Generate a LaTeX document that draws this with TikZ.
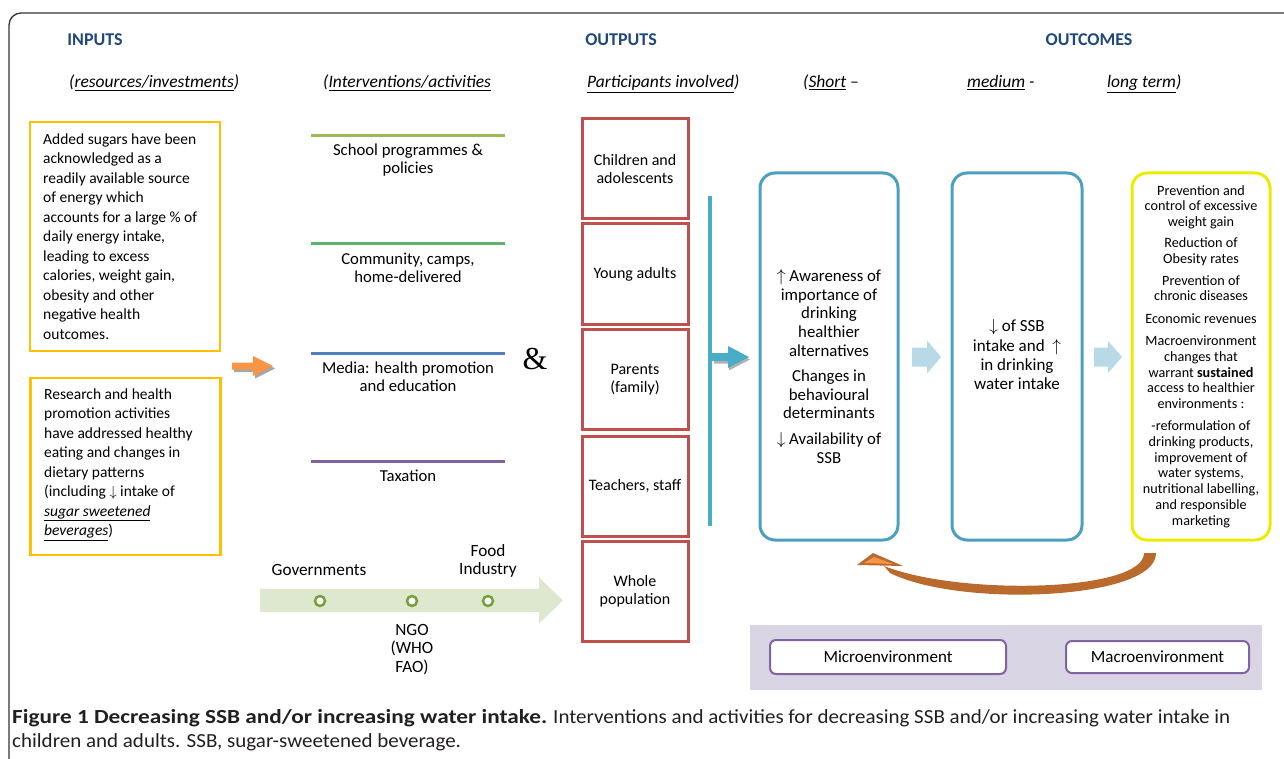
\documentclass[tikz,border=0pt]{standalone}
\usepackage{fontspec}
\usepackage{graphicx}
\setmainfont{Carlito}
\newfontfamily\serifamp{Liberation Serif}
\usetikzlibrary{arrows.meta}
\definecolor{hdrblue}{RGB}{31,73,125}
\definecolor{inyellow}{RGB}{255,192,0}
\definecolor{partred}{RGB}{192,80,77}
\definecolor{lnA}{RGB}{155,187,89}
\definecolor{lnB}{RGB}{92,178,107}
\definecolor{lnC}{RGB}{79,129,189}
\definecolor{lnD}{RGB}{128,100,162}
\definecolor{tealbox}{RGB}{75,160,190}
\definecolor{tealbar}{RGB}{75,172,198}
\definecolor{ybox}{RGB}{235,235,0}
\definecolor{lav}{RGB}{217,213,228}
\definecolor{lblue}{RGB}{183,218,230}
\definecolor{gband}{RGB}{221,232,207}
\definecolor{olive}{RGB}{119,160,60}
\definecolor{orangearr}{RGB}{247,150,70}
\definecolor{brownarr}{RGB}{187,106,46}
\definecolor{capcol}{RGB}{35,31,32}
\definecolor{framecol}{RGB}{50,50,50}
\newcommand\fs[2]{\fontsize{#1}{#2}\selectfont}
\newcommand\blockarr[7]{%
  \fill[#7] (#1,{#4-#5}) -- (#2,{#4-#5}) -- (#2,{#4-#6}) -- (#3,#4) -- (#2,{#4+#6}) -- (#2,{#4+#5}) -- (#1,{#4+#5}) -- cycle;}
\newsavebox\capA
\newsavebox\capB
\newlength\capBlen
\begin{document}
\begin{tikzpicture}[x=1pt,y=-1pt,
  every node/.style={inner sep=0pt},
  hdr/.style={font=\fs{18}{20}\bfseries, text=hdrblue},
  sub/.style={font=\fs{17.5}{20}\itshape, anchor=base west},
  inbox/.style={draw=inyellow, line width=2.5pt, minimum width=190pt},
  intxt/.style={anchor=west, align=left, font=\fs{15.5}{19.5}},
  itemtxt/.style={font=\fs{16.7}{18}, align=center},
  pbox/.style={draw=partred, line width=3pt, minimum width=106pt, minimum height=100pt, align=center, font=\fs{16}{18}},
  obox/.style={draw=tealbox, line width=3pt, rounded corners=15pt, minimum width=138pt, minimum height=367pt},
  ybx/.style={draw=ybox, line width=3pt, rounded corners=15pt, minimum width=138pt, minimum height=367pt},
  otxt/.style={font=\fs{16.8}{18.7}, align=center},
  ctxt/.style={font=\fs{14.2}{15.8}, align=center},
  gtxt/.style={font=\fs{17.2}{18.5}, align=center},
  envbox/.style={draw=lnD, line width=2pt, rounded corners=6pt, fill=white, font=\fs{17}{18}},
  dot/.style={circle, draw=olive, line width=2.5pt, fill=white, minimum size=10pt}
]
\useasboundingbox (0,0) rectangle (1284,759);
% outer frame
\draw[framecol, line width=1.3pt, rounded corners=12pt] (1290,13) -- (9,13) -- (9,770);

% headers
\node[hdr] (hin) at (95,40) {INPUTS};
\node[hdr] (hout) at (621,40) {OUTPUTS};
\node[hdr] (hoc) at (1089,40) {OUTCOMES};
\node[sub] (s1) at (69,88) {(\underline{resources/investments})};
\node[sub] (s2) at (323,88) {(\underline{Interventions/activities}};
\node[sub] (s3) at (587,88) {\underline{Participants involved})};
\node[sub] (s4) at (803,88) {(\underline{Short} –};
\node[sub] (s5) at (967,88) {\underline{medium} -};
\node[sub] (s6) at (1107,88) {\underline{long term})};

% input boxes
\node[inbox, minimum height=229pt] (in1) at (125,236.5) {};
\node[intxt] (in1t) at (43,236.5) {Added sugars have been\\ acknowledged as a\\ readily available source\\ of energy which\\ accounts for a large \% of\\ daily energy intake,\\ leading to excess\\ calories, weight gain,\\ obesity and other\\ negative health\\ outcomes.};
\node[inbox, minimum height=177pt] (in2) at (125.5,466.5) {};
\node[intxt] (in2t) at (44,464.5) {Research and health\\ promotion activities\\ have addressed healthy\\ eating and changes in\\ dietary patterns\\ (including $\downarrow$ intake of\\ \textit{\underline{sugar sweetened}}\\ \textit{\underline{beverages}})};

% orange arrow
\blockarr{234}{255}{275}{368.5}{3.5}{10}{black!35}
\blockarr{232}{253}{273}{366}{3.5}{10}{orangearr}

% intervention lines
\draw[lnA, line width=3pt] (311,136) -- (505,136);
\draw[lnB, line width=3pt] (311,244) -- (505,244);
\draw[lnC, line width=3pt] (311,353) -- (505,353);
\draw[lnD, line width=3pt] (311,461) -- (505,461);
\node[itemtxt] (i1) at (408,160) {School programmes \&\\ policies};
\node[itemtxt] (i2) at (408,268) {Community, camps,\\ home-delivered};
\node[itemtxt] (i3) at (408,377) {Media: health promotion\\ and education};
\node[itemtxt] (i4) at (408,476) {Taxation};
\node[font=\serifamp\fs{32}{34}] (amp) at (535,359) {\&};

% participants
\node[pbox] (p1) at (635,169) {Children and\\ adolescents};
\node[pbox] (p2) at (635,274) {Young adults};
\node[pbox] (p3) at (635,379.5) {Parents\\ (family)};
\node[pbox] (p4) at (635,486) {Teachers, staff};
\node[pbox] (p5) at (635,591) {Whole\\ population};

% stakeholders band
\blockarr{260}{539}{563}{600.5}{11.5}{23}{gband}
\node[dot] (g1) at (320,601) {};
\node[dot] (g2) at (412,601) {};
\node[dot] (g3) at (488,601) {};
\node[gtxt] (gov) at (319,570) {Governments};
\node[gtxt] (food) at (488,561) {Food\\ Industry};
\node[gtxt] (ngo) at (412,649.5) {NGO\\ (WHO\\ FAO)};

% blue bar and arrow
\draw[tealbar, line width=4pt] (710,196) -- (710,526);
\blockarr{714}{729}{750}{359.5}{4}{11}{black!30}
\blockarr{712}{728}{749}{357}{4}{11}{tealbar}

% outcome boxes
\node[obox] (oa) at (829,356.5) {};
\node[obox, minimum width=130pt] (ob) at (1017,356.5) {};
\node[ybx] (oc) at (1201,356.5) {};
\node[otxt] (ta) at (829,366.5) {$\uparrow$ Awareness of\\ importance of\\ drinking\\ healthier\\ alternatives\\[6.5pt] Changes in\\ behavioural\\ determinants\\[7pt] $\downarrow$ Availability of\\ SSB};
\node[otxt, font=\fs{17}{19.3}] (tb) at (1017,355) {$\downarrow$ of SSB\\ intake and \ $\uparrow$\\ in drinking\\ water intake};
\node[ctxt] (tc) at (1201,356.5) {Prevention and\\ control of excessive\\ weight gain\\[5pt] Reduction of\\ Obesity rates\\[6pt] Prevention of\\ chronic diseases\\[7pt] Economic revenues\\[6pt] Macroenvironment\\ changes that\\ warrant \textbf{sustained}\\ access to healthier\\ environments :\\[6pt] -reformulation of\\ drinking products,\\ improvement of\\ water systems,\\ nutritional labelling,\\ and responsible\\ marketing};

% chevrons
\blockarr{912}{927}{941}{357}{9.5}{16.5}{lblue}
\blockarr{1094}{1108}{1122}{357}{9.5}{16}{lblue}

% curved feedback arrow (from outcome box C back to box A)
\fill[brownarr] (1156,553) .. controls (1157,600) and (960,608) .. (890,573) -- (884,566) .. controls (960,596) and (1144,592) .. (1144,553) -- cycle;
\fill[brownarr] (857,565) -- (873,553) -- (903,566) -- cycle;
\fill[orangearr] (864,563) -- (874,557) -- (893,564) -- cycle;

% environment band
\fill[lav] (750,625) rectangle (1262,690);
\node[envbox, minimum width=236pt, minimum height=34pt] (micro) at (888,657) {Microenvironment};
\node[envbox, minimum width=183pt, minimum height=32pt] (macro) at (1157.5,657) {Macroenvironment};

% caption
\node[anchor=base west, text=capcol] (cap1) at (12,723) {\sbox\capA{\fs{20}{24}\bfseries Figure 1 Decreasing SSB and/or increasing water intake.}%
  \sbox\capB{\fs{20}{24}Interventions and activities for decreasing SSB and/or increasing water intake in}%
  \setlength\capBlen{\wd\capB}%
  \pgfmathsetmacro\capscale{677/\capBlen}%
  \global\let\capscaleG\capscale
  \resizebox{535pt}{\height}{\usebox\capA}\hspace{6pt}\resizebox{677pt}{\height}{\usebox\capB}};
\node[anchor=base west, text=capcol] (cap2) at (12,747) {\scalebox{\capscaleG}[1]{\fs{20}{24}children and adults. SSB, sugar-sweetened beverage.}};
\end{tikzpicture}
\end{document}
